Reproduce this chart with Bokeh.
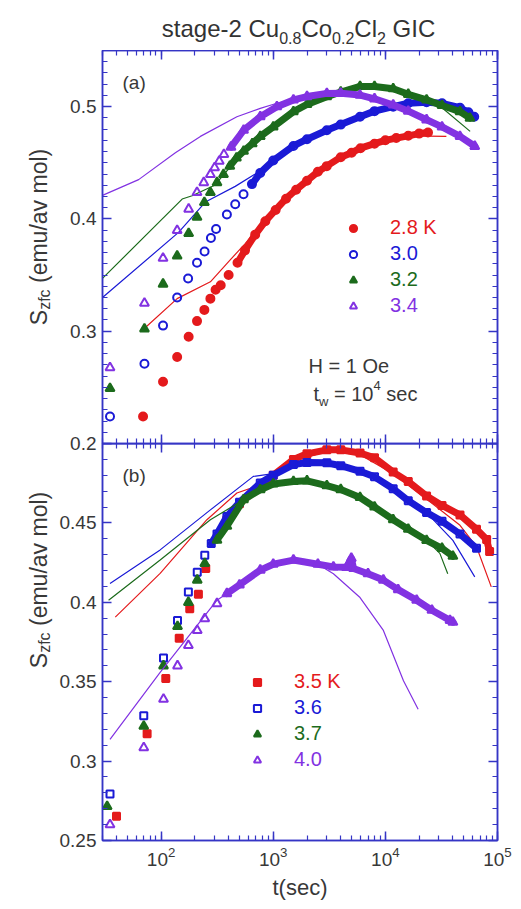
import math
from bokeh.plotting import figure
from bokeh.models import (Range1d, FixedTicker, LogTicker, LinearAxis, LogAxis,
                          Label, Legend, LegendItem)
from bokeh.layouts import column, row
from bokeh.core.properties import value
from bokeh.embed import file_html
from bokeh.resources import INLINE

# ---------------- data : panel (a)  (t in sec, S_zfc in emu/av mol) ----------------
a28_t = [69, 104, 139, 176, 209, 243, 275, 306, 340, 400]
a28_s = [0.224, 0.255, 0.277, 0.295, 0.309, 0.319, 0.329, 0.337, 0.341, 0.350]
a28_dense_t = [480, 560, 690, 850, 1050, 1300, 1600, 2000, 2500, 3000, 4000, 5000, 6000,
               8000, 10000, 12500, 16000, 20000, 24000]
a28_dense_s = [0.361, 0.372, 0.386, 0.398, 0.408, 0.418, 0.426, 0.434, 0.442, 0.447, 0.455,
               0.459, 0.463, 0.467, 0.470, 0.472, 0.474, 0.476, 0.477]
a28_fit_t = [70, 139, 275, 400, 562, 664, 1000, 2000, 4000, 8000, 16000, 35000]
a28_fit_s = [0.302, 0.329, 0.344, 0.362, 0.378, 0.387, 0.406, 0.434, 0.455, 0.467, 0.474, 0.4735]

a30_t = [35, 71, 104, 139, 174, 209, 244, 278, 309, 386, 458, 543]
a30_s = [0.224, 0.271, 0.305, 0.330, 0.347, 0.361, 0.371, 0.383, 0.391, 0.404, 0.413, 0.422]
a30_dense_t = [646, 766, 1000, 1514, 2000, 3006, 4000, 5943, 8000, 11740, 16000, 23300,
               32000, 46300, 55000, 62000]
a30_dense_s = [0.431, 0.441, 0.452, 0.465, 0.471, 0.479, 0.484, 0.491, 0.496, 0.500, 0.503,
               0.504, 0.503, 0.499, 0.495, 0.491]
a30_fit_t = [30, 143, 248, 458, 690, 1000, 2000, 4000, 8000, 16000, 32000, 62000]
a30_fit_s = [0.330, 0.388, 0.415, 0.429, 0.440, 0.452, 0.471, 0.484, 0.495, 0.503, 0.503, 0.491]

a32_t = [35, 71, 104, 139, 176, 209, 243, 275, 315, 360]
a32_s = [0.249, 0.302, 0.342, 0.367, 0.387, 0.4015, 0.4147, 0.4236, 0.4324, 0.4397]
a32_dense_t = [410, 470, 544, 650, 766, 1000, 1514, 2000, 3006, 4000, 5943, 8000, 11740,
               16000, 23300, 32000, 46300, 56800]
a32_dense_s = [0.447, 0.4544, 0.4603, 0.467, 0.4735, 0.482, 0.4956, 0.502, 0.5088, 0.513,
               0.518, 0.518, 0.516, 0.511, 0.506, 0.501, 0.4956, 0.4898]
a32_fit_t = [30, 154, 189, 300, 500, 1000, 2000, 4000, 8000, 16000, 32000, 57000]
a32_fit_s = [0.347, 0.4177, 0.4206, 0.430, 0.456, 0.482, 0.502, 0.513, 0.517, 0.511, 0.499, 0.478]

a34_t = [35, 71, 104, 139, 176, 209, 240, 275, 300, 330, 363]
a34_s = [0.2676, 0.325, 0.365, 0.3897, 0.4088, 0.4236, 0.4324, 0.4397, 0.4456, 0.4515, 0.4574]
a34_dense_t = [420, 544, 766, 1078, 1514, 2000, 3006, 4000, 5943, 8000, 11740, 16000, 23300,
               32000, 46300, 62700]
a34_dense_s = [0.464, 0.479, 0.491, 0.500, 0.506, 0.509, 0.5118, 0.512, 0.5103, 0.507, 0.5015,
               0.496, 0.4883, 0.482, 0.4735, 0.4647]
a34_fit_t = [30, 63, 134, 224, 474, 766, 1078, 2000, 4000, 8000, 16000, 32000, 62700]
a34_fit_s = [0.421, 0.435, 0.459, 0.4735, 0.491, 0.4985, 0.503, 0.509, 0.512, 0.507, 0.496,
             0.482, 0.465]

# ---------------- data : panel (b) ----------------
b35_t = [40, 75, 110, 145, 180, 215, 250]
b35_s = [0.2652, 0.3173, 0.352, 0.3774, 0.396, 0.405, 0.4213]
b35_dense_t = [386, 500, 766, 1000, 1514, 2000, 3006, 4000, 5943, 8000, 11740, 16000, 23300,
               32000, 46300, 65000, 80000, 85000]
b35_dense_s = [0.452, 0.462, 0.473, 0.480, 0.490, 0.4935, 0.496, 0.496, 0.494, 0.491, 0.482,
               0.476, 0.467, 0.461, 0.455, 0.446, 0.4395, 0.432]
b35_fit_t = [39, 98, 256, 474, 766, 1514, 3006, 5943, 11740, 23300, 46300, 65000, 88000]
b35_fit_s = [0.3907, 0.4182, 0.452, 0.4688, 0.474, 0.489, 0.495, 0.493, 0.481, 0.465, 0.4485,
             0.435, 0.4097]

b36_t = [35, 70, 105, 140, 175, 210, 245]
b36_s = [0.2793, 0.3285, 0.365, 0.3886, 0.4065, 0.419, 0.4297]
b36_dense_t = [280, 315, 386, 500, 766, 1000, 1514, 2000, 3006, 4000, 5943, 8000, 11740,
               16000, 23300, 32000, 46300, 65000]
b36_dense_s = [0.437, 0.443, 0.454, 0.463, 0.4751, 0.480, 0.4867, 0.488, 0.4878, 0.486,
               0.4825, 0.479, 0.4715, 0.464, 0.4565, 0.451, 0.443, 0.434]
b36_fit_t = [35, 98, 275, 664, 1000, 2000, 3006, 5943, 11740, 23300, 40000, 62700]
b36_fit_s = [0.4118, 0.433, 0.4582, 0.4793, 0.481, 0.488, 0.4878, 0.4825, 0.4715, 0.4565,
             0.439, 0.416]

b37_t = [33, 70, 105, 140, 175, 210, 245]
b37_s = [0.2715, 0.322, 0.360, 0.3848, 0.400, 0.414, 0.4245]
b37_dense_t = [315, 386, 544, 766, 1000, 1514, 2000, 3006, 4000, 5943, 8000, 11740, 16000,
               23300, 32000, 40000]
b37_dense_s = [0.4392, 0.448, 0.4646, 0.4709, 0.4745, 0.4761, 0.4765, 0.4735, 0.471, 0.466,
               0.460, 0.452, 0.446, 0.439, 0.434, 0.429]
b37_fit_t = [34, 98, 275, 544, 1000, 2000, 4000, 8000, 16000, 23300, 30600, 36000]
b37_fit_s = [0.4013, 0.4266, 0.452, 0.4646, 0.4745, 0.4765, 0.471, 0.460, 0.446, 0.439,
             0.4308, 0.418]

b40_t = [35, 70, 105, 140, 175, 210, 245, 315]
b40_s = [0.260, 0.3084, 0.339, 0.360, 0.3728, 0.3823, 0.3897, 0.3992]
b40_dense_t = [386, 500, 766, 1000, 1514, 2500, 3440, 4500, 4970, 5200, 7000, 9600, 13000,
               19000, 26000, 37700, 40000]
b40_dense_s = [0.4055, 0.411, 0.4203, 0.424, 0.4266, 0.424, 0.4223, 0.422, 0.4277, 0.4213,
               0.418, 0.414, 0.408, 0.4013, 0.395, 0.3886, 0.3875]
b40_fit_t = [35, 98, 315, 766, 1514, 2500, 3440, 5943, 9600, 14500, 19600]
b40_fit_s = [0.3137, 0.3559, 0.4013, 0.420, 0.4266, 0.424, 0.418, 0.403, 0.3823, 0.3506, 0.3327]

a_labels = ["2.8 K", "3.0", "3.2", "3.4"]
b_labels = ["3.5 K", "3.6", "3.7", "4.0"]
a_yticks = [0.2, 0.3, 0.4, 0.5]
b_yticks = [0.25, 0.3, 0.35, 0.4, 0.45, 0.5]

# ---------------- style ----------------
FONT = "Liberation Sans"
AX = "#3535c5"
TXT = "#383838"
RED, BLUE, GREEN, PURPLE = "#e41a1c", "#1a1ad6", "#1c6b1c", "#8232e2"
FW = 395
FH_A, FH_B = 393, 397
YLW = 56                      # width of the y-title strip
LEFT, RIGHT, TOP = 102, 16, 50
SEAM = 10
BOTTOM = 60

CW = {' ': .278, '(': .333, ')': .333, '/': .278, '-': .333, '.': .278, '=': .584,
      'a': .556, 'c': .5, 'e': .556, 'f': .278, 'g': .556, 'l': .222, 'm': .833, 'o': .556,
      's': .5, 't': .278, 'u': .556, 'v': .5, 'w': .722, 'z': .5, 'S': .667, 'C': .722,
      'G': .778, 'I': .278}


def tw(s, size):
    return sum(CW.get(ch, .556) for ch in s) * size


x_range = Range1d(30, 1e5)


def style_axis(ax, labels):
    ax.axis_line_color = AX
    ax.axis_line_width = 1.5
    ax.major_tick_line_color = AX
    ax.minor_tick_line_color = AX
    ax.major_tick_line_width = 1.5
    ax.minor_tick_line_width = 1.2
    ax.major_tick_in = 9
    ax.major_tick_out = 0
    ax.minor_tick_in = 5
    ax.minor_tick_out = 0
    ax.major_label_text_font = FONT
    ax.major_label_text_color = TXT
    if labels:
        ax.major_label_text_font_size = "19px"
        ax.major_label_standoff = 6
    else:
        ax.major_label_text_font_size = "1px"
        ax.major_label_text_alpha = 0
        ax.major_label_standoff = 0


def blank_fig(w, h, **kw):
    f = figure(width=w, height=h, min_border=0, x_range=Range1d(0, 1), y_range=Range1d(0, 1),
               x_axis_location=None, y_axis_location=None, toolbar_location=None,
               output_backend="svg", outline_line_color=None, **kw)
    f.xgrid.visible = False
    f.ygrid.visible = False
    return f


def make_panel(y0, y1, fh, top, bottom, **kw):
    p = figure(x_axis_type="log", x_range=x_range, y_range=Range1d(y0, y1),
               frame_width=FW, frame_height=fh, min_border_left=LEFT - YLW,
               min_border_right=RIGHT, min_border_top=top, min_border_bottom=bottom,
               x_axis_location=None, y_axis_location=None,
               toolbar_location=None, output_backend="svg", **kw)
    p.xgrid.visible = False
    p.ygrid.visible = False
    p.outline_line_color = AX
    p.outline_line_width = 1.5
    return p


def add_axes(p, yticks, yminor, overrides, xlabels):
    axes = {}
    for loc in ("below", "above"):
        ax = LogAxis(ticker=LogTicker(num_minor_ticks=10))
        style_axis(ax, xlabels and loc == "below")
        p.add_layout(ax, loc)
        axes[loc] = ax
    for loc in ("left", "right"):
        ax = LinearAxis(ticker=FixedTicker(ticks=yticks, minor_ticks=yminor),
                        major_label_overrides=overrides)
        style_axis(ax, loc == "left")
        p.add_layout(ax, loc)
    return axes


def draw_series(p, et, es, dt, ds, ft, fs, color, marker, filled, size):
    p.line(ft, fs, line_color=color, line_width=1.2)
    p.line(dt, ds, line_color=color, line_width=7, line_join="round", line_cap="round")
    r = p.scatter(et + dt, es + ds, marker=marker, size=size, line_color=color, line_width=2,
                  fill_color=color, fill_alpha=1 if filled else 0)
    return r


def legend_entry(p, r, text, color, x, y):
    leg = Legend(items=[LegendItem(label=value(text), renderers=[r])], location=(x, y),
                 padding=0, margin=0, spacing=0, border_line_alpha=0, background_fill_alpha=0,
                 glyph_width=18, glyph_height=20, label_height=20, label_standoff=28,
                 label_text_font=FONT, label_text_font_size="20px", label_text_color=color)
    p.add_layout(leg)


def txt(p, x, y, s, size, color=TXT, angle=0, baseline="alphabetic"):
    p.add_layout(Label(x=x, y=y, x_units="screen", y_units="screen", text=s,
                       text_font=FONT, text_font_size=f"{size}px", text_color=color,
                       angle=angle, text_baseline=baseline, text_align="left"))


def chain(f, x, y, pieces, color=TXT, rotated=False, baseline="alphabetic"):
    """pieces: (text, size, offset); offset moves a piece up (or, rotated, right)."""
    pos = 0.0
    for s, sz, off in pieces:
        if s.strip():
            if rotated:
                txt(f, x + off, y + pos, s, sz, color, angle=math.pi / 2, baseline=baseline)
            else:
                txt(f, x + pos, y + off, s, sz, color, baseline=baseline)
        pos += tw(s, sz)
    return pos


def ylabel_fig(height, center_y, **kw):
    f = blank_fig(YLW, height, **kw)
    pieces = [("S", 23, 0), ("zfc", 16, 6), (" ", 23, 0), ("(emu/av mol)", 23, 0)]
    total = sum(tw(s, sz) for s, sz, _ in pieces)
    chain(f, 38, center_y - total / 2, pieces, rotated=True)
    return f


# ---------------- title strip ----------------
head = blank_fig(LEFT + FW + RIGHT, TOP)
title_pieces = [("stage-2 Cu", 24, 0), ("0.8", 16, -9), ("Co", 24, 0), ("0.2", 16, -9),
                ("Cl", 24, 0), ("2", 16, -9), (" ", 24, 0), ("GIC", 24, 0)]
title_w = sum(tw(s, sz) for s, sz, _ in title_pieces)
chain(head, 298 - title_w / 2, TOP - 28, title_pieces, color="#333333")

# ---------------- panel (a) ----------------
pa = make_panel(0.2, 0.55, FH_A, 0, SEAM)
add_axes(pa, a_yticks, [round(0.2 + 0.01 * i, 2) for i in range(36)], {}, False)
ra = [
    draw_series(pa, a28_t, a28_s, a28_dense_t, a28_dense_s, a28_fit_t, a28_fit_s, RED, "circle", True, 8),
    draw_series(pa, a30_t, a30_s, a30_dense_t, a30_dense_s, a30_fit_t, a30_fit_s, BLUE, "circle", False, 8),
    draw_series(pa, a32_t, a32_s, a32_dense_t, a32_dense_s, a32_fit_t, a32_fit_s, GREEN, "triangle", True, 9),
    draw_series(pa, a34_t, a34_s, a34_dense_t, a34_dense_s, a34_fit_t, a34_fit_s, PURPLE, "triangle", False, 9),
]
for i, (r, lab, c) in enumerate(zip(ra, a_labels, [RED, BLUE, GREEN, PURPLE])):
    legend_entry(pa, r, lab, c, 242, 204 - 26 * i)

txt(pa, 20, 361, "(a)", 19, baseline="middle")
txt(pa, 206, 78, "H = 1 Oe", 20, baseline="middle")
chain(pa, 211, 50, [("t", 20, 0), ("w", 13, -8), (" ", 20, 0), ("=", 20, 0), (" ", 20, 0),
                    ("10", 20, 0), ("4", 13, 8), (" ", 20, 0), ("sec", 20, 0)],
      baseline="middle")
yla = ylabel_fig(FH_A + SEAM, SEAM + FH_A / 2)

# ---------------- panel (b) ----------------
pb = make_panel(0.25, 0.5, FH_B, 0, BOTTOM, border_fill_alpha=0, background_fill_alpha=0)
axb = add_axes(pb, b_yticks, [round(0.25 + 0.01 * i, 2) for i in range(26)],
               {0.3: "0.3", 0.4: "0.4", 0.5: ""}, True)
rb = [
    draw_series(pb, b35_t, b35_s, b35_dense_t, b35_dense_s, b35_fit_t, b35_fit_s, RED, "square", True, 7),
    draw_series(pb, b36_t, b36_s, b36_dense_t, b36_dense_s, b36_fit_t, b36_fit_s, BLUE, "square", False, 7),
    draw_series(pb, b37_t, b37_s, b37_dense_t, b37_dense_s, b37_fit_t, b37_fit_s, GREEN, "triangle", True, 9),
    draw_series(pb, b40_t, b40_s, b40_dense_t, b40_dense_s, b40_fit_t, b40_fit_s, PURPLE, "triangle", False, 9),
]
for i, (r, lab, c) in enumerate(zip(rb, b_labels, [RED, BLUE, GREEN, PURPLE])):
    legend_entry(pb, r, lab, c, 146, 147 - 26 * i)

txt(pb, 20, 365, "(b)", 19, baseline="middle")

xb = axb["below"]
xb.axis_label = "t(sec)"
xb.axis_label_text_font = FONT
xb.axis_label_text_font_size = "22px"
xb.axis_label_text_font_style = "normal"
xb.axis_label_text_color = TXT
xb.axis_label_standoff = 6

ylb = ylabel_fig(FH_B + BOTTOM, BOTTOM + FH_B / 2, border_fill_alpha=0, background_fill_alpha=0)

layout = column(head, row(yla, pa, spacing=0),
                row(ylb, pb, spacing=0, margin=(-SEAM, 0, 0, 0)), spacing=0)
open("out.html", "w").write(file_html(layout, INLINE))
